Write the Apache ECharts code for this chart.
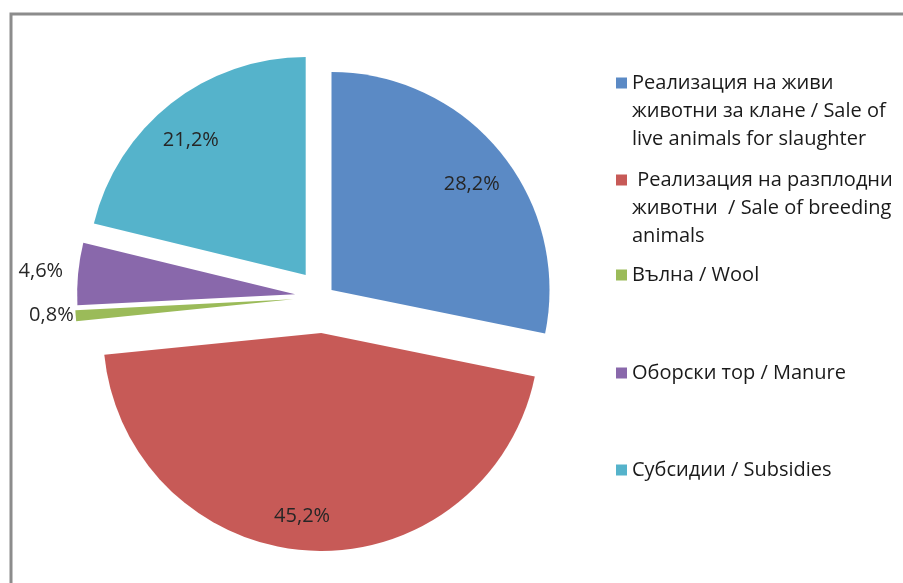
<!DOCTYPE html>
<html><head><meta charset="utf-8">
<script src="https://cdn.jsdelivr.net/npm/echarts@6/dist/echarts.min.js"></script>
<style>html,body{margin:0;padding:0;background:#fff}#c{width:903px;height:583px}</style>
</head><body><div id="c"></div>
<script>
// ---- data ----
const categories = [
  'Реализация на живи\nживотни за клане / Sale of\nlive animals for slaughter',
  ' Реализация на разплодни\nживотни  / Sale of breeding\nanimals',
  'Вълна / Wool',
  'Оборски тор / Manure',
  'Субсидии / Subsidies'
];
const shares = [28.2, 45.2, 0.8, 4.6, 21.2];

// ---- styles ----
const colors = ['#5B8AC5', '#C75A57', '#9BBB59', '#8968AB', '#55B3CB'];
const explodeOffsets = [11, 36, 30, 28, 28];
// label nudges: right padding (moves text left) and vertical shift
const labelPadRight = [0, 20, 0, 0, 6];
const labelShiftDown = [9, 3, 0, -2, 8];
const legendTops = [73, 170, 265, 363, 460];
const outsideLabelLine = { 2: [0, 0, 2], 3: [5, 5, 5] };
const CENTER = [323, 297];
const R = 218;
const R_LABEL_IN = 138;
const FONT = 'Open Sans';
const TRANSPARENT = 'rgba(0,0,0,0)';

function fmtPct(v) { return v.toFixed(1).replace('.', ',') + '%'; }
function labelText(j) {
  const t = '{v|' + fmtPct(shares[j]) + '}';
  const dy = labelShiftDown[j];
  if (dy > 0) return '{g' + j + '|}\n' + t;
  if (dy < 0) return t + '\n{g' + j + '|}';
  return t;
}

const series = [];
categories.forEach((name, i) => {
  // visible slice i
  series.push({
    type: 'pie', center: CENTER, radius: [0, R], startAngle: 90, clockwise: true,
    selectedMode: 'single', selectedOffset: explodeOffsets[i], silent: true, animation: false,
    avoidLabelOverlap: false, z: 2,
    label: { show: false }, labelLine: { show: false },
    emphasis: { disabled: true },
    data: categories.map((n, j) => ({
      name: n, value: shares[j], selected: j === i,
      itemStyle: { color: j === i ? colors[j] : TRANSPARENT, borderWidth: 0 }
    }))
  });
  // label carrier for slice i
  const small = shares[i] < 10;
  const ll = outsideLabelLine[i] || [10, 10, 5];
  const rich = { v: { fontFamily: FONT, fontSize: 20, color: '#262626', lineHeight: 24 } };
  rich['g' + i] = { lineHeight: Math.abs(labelShiftDown[i]) * 2, height: Math.abs(labelShiftDown[i]) * 2 };
  series.push({
    type: 'pie', center: CENTER, radius: [R_LABEL_IN, R], startAngle: 90, clockwise: true,
    selectedMode: 'single', selectedOffset: explodeOffsets[i], silent: true, animation: false,
    avoidLabelOverlap: false, z: 3,
    emphasis: { disabled: true },
    data: categories.map((n, j) => ({
      name: n, value: shares[j], selected: j === i,
      itemStyle: { color: TRANSPARENT, borderWidth: 0 },
      label: {
        show: j === i, position: small ? 'outside' : 'inside',
        formatter: labelText(j), color: '#262626',
        fontFamily: FONT, fontSize: 20, distanceToLabelLine: ll[2],
        padding: [0, labelPadRight[j], 0, 0], rich: rich
      },
      labelLine: { show: false, length: ll[0], length2: ll[1] }
    }))
  });
});

const legends = categories.map((name, i) => ({
  data: [name], orient: 'vertical', left: 611, top: legendTops[i],
  padding: 0, itemWidth: 0, itemHeight: 0, itemGap: 0, selectedMode: false, icon: 'rect',
  formatter: n => n.split('\n').map((l, k) => (k === 0 ? '{m|}' : '{s|}') + '{t|' + l + '}').join('\n'),
  textStyle: {
    rich: {
      m: { width: 11, height: 11, backgroundColor: colors[i] },
      s: { width: 11 },
      t: { fontFamily: FONT, fontSize: 20, color: '#1a1a1a', lineHeight: 28, padding: [0, 0, 0, 5] }
    }
  }
}));

const chart = echarts.init(document.getElementById('c'), null, { renderer: 'canvas' });
chart.setOption({
  animation: false,
  backgroundColor: '#ffffff',
  graphic: [{
    type: 'rect', silent: true, z: 0,
    shape: { x: 11, y: 14, width: 1000, height: 1000 },
    style: { fill: 'none', stroke: '#8c8c8c', lineWidth: 3 }
  }],
  legend: legends,
  series: series
});
</script>
</body></html>
